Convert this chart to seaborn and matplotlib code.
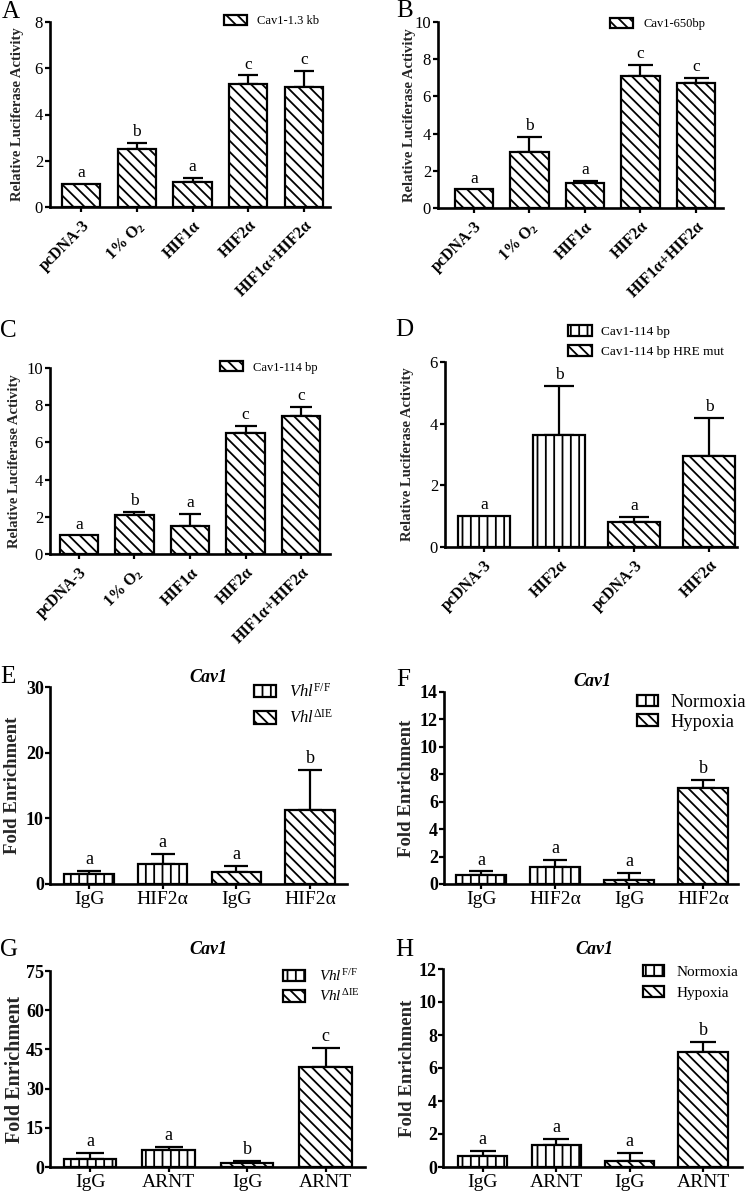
import numpy as np
import pandas as pd
import matplotlib
matplotlib.use("Agg")
import matplotlib.pyplot as plt
import seaborn as sns
from matplotlib.patches import Patch

# ---------------- data ----------------
# Panel A-C: luciferase reporter assays
luc_cats = ["pcDNA-3", r"1% O$_\mathbf{2}$", "HIF1α", "HIF2α", "HIF1α+HIF2α"]
a_mean = [1.00, 2.50, 1.07, 5.30, 5.17]
a_sem = [0.00, 0.26, 0.18, 0.39, 0.71]
a_sig = ["a", "b", "a", "c", "c"]
a_series = ["Cav1-1.3 kb"]

b_mean = [1.00, 3.00, 1.33, 7.09, 6.73]
b_sem = [0.00, 0.82, 0.14, 0.61, 0.27]
b_sig = ["a", "b", "a", "c", "c"]
b_series = ["Cav1-650bp"]

c_mean = [1.00, 2.10, 1.50, 6.49, 7.41]
c_sem = [0.00, 0.17, 0.65, 0.40, 0.50]
c_sig = ["a", "b", "a", "c", "c"]
c_series = ["Cav1-114 bp"]

# Panel D
d_cats = ["pcDNA-3", "HIF2α", "pcDNA-3", "HIF2α"]
d_mean = [1.00, 3.64, 0.82, 2.95]
d_sem = [0.00, 1.58, 0.15, 1.23]
d_sig = ["a", "b", "a", "b"]
d_series = ["Cav1-114 bp", "Cav1-114 bp HRE mut"]

# Panels E-H: ChIP fold enrichment
e_cats = ["IgG", "HIF2α", "IgG", "HIF2α"]
e_mean = [1.50, 2.97, 1.85, 11.30]
e_sem = [0.46, 1.60, 0.85, 6.10]
e_sig = ["a", "a", "a", "b"]
e_series = [r"$\mathit{Vhl}^{\mathrm{F/F}}$", r"$\mathit{Vhl}^{\mathrm{ΔIE}}$"]

f_mean = [0.63, 1.23, 0.31, 6.97]
f_sem = [0.29, 0.55, 0.49, 0.61]
f_sig = ["a", "a", "a", "b"]
f_series = ["Normoxia", "Hypoxia"]

g_cats = ["IgG", "ARNT", "IgG", "ARNT"]
g_mean = [3.20, 6.40, 1.50, 38.10]
g_sem = [2.15, 1.20, 0.70, 7.40]
g_sig = ["a", "a", "b", "c"]

h_mean = [0.69, 1.31, 0.38, 6.95]
h_sem = [0.30, 0.41, 0.47, 0.61]
h_sig = ["a", "a", "a", "b"]

single_group = [1, 1, 1, 1, 1]
pair_group = [0, 0, 1, 1]
gene_title = "Cav1"

# ---------------- style ----------------
sns.set_style("ticks")
plt.rcParams["font.family"] = ["Liberation Serif", "DejaVu Serif"]
plt.rcParams["mathtext.fontset"] = "custom"
plt.rcParams["mathtext.rm"] = "Liberation Serif"
plt.rcParams["mathtext.it"] = "Liberation Serif:italic"
plt.rcParams["mathtext.bf"] = "Liberation Serif:bold"
plt.rcParams["hatch.linewidth"] = 1.3
plt.rcParams["hatch.color"] = "black"
plt.rcParams["text.color"] = "black"
plt.rcParams["axes.edgecolor"] = "black"
plt.rcParams["xtick.color"] = "black"
plt.rcParams["ytick.color"] = "black"

HATCH = ["||", "\\\\\\"]

fig = plt.figure(figsize=(7.5, 12), dpi=100)


def add_ax(l, r, t, b):
    return fig.add_axes([l / 750, 1 - b / 1200, (r - l) / 750, (b - t) / 1200])


def panel(ax, cats, mean, sem, sig, groups, ymax, ystep, xlim, width, cap,
          kind, ylabel_x, ylabel_fs=13.5):
    n = len(mean)
    df = pd.DataFrame({"pos": np.arange(n), "val": mean})
    sns.barplot(data=df, x="pos", y="val", color="white", saturation=1,
                edgecolor="black", linewidth=1.6, width=width, errorbar=None,
                ax=ax, zorder=2)
    for p, g in zip(ax.patches, groups):
        p.set_hatch(HATCH[g])
    m = np.asarray(mean, float)
    s = np.asarray(sem, float)
    has = s > 0
    pos = np.arange(n)
    ax.errorbar(pos[has], m[has], yerr=[np.zeros(has.sum()), s[has]],
                fmt="none", ecolor="black", elinewidth=1.6, capsize=cap,
                capthick=1.6, zorder=1)
    sfs = 12.5 if kind == "luc" else 13
    for i in range(n):
        ax.annotate(sig[i], xy=(i, m[i] + s[i]), xytext=(0, 2),
                    textcoords="offset points", ha="center", va="bottom",
                    fontsize=sfs)
    ax.set_ylim(0, ymax)
    ax.set_xlim(*xlim)
    ax.set_yticks(np.arange(0, ymax + 0.01, ystep))
    ax.set_xticks(pos)
    sns.despine(ax=ax)
    for sp in ("left", "bottom"):
        ax.spines[sp].set_linewidth(1.9)
    ax.tick_params(axis="both", direction="out", length=3.8, width=1.6)
    ax.set_xlabel("")
    if kind == "luc":
        ax.set_xticklabels(cats, rotation=45, ha="right", va="top",
                           rotation_mode="anchor", fontweight="bold",
                           fontsize=11.5)
        ax.tick_params(axis="x", pad=4)
        ax.tick_params(axis="y", labelsize=12, pad=1.2)
        ax.set_yticklabels([f"{v:g}" for v in ax.get_yticks()])
        ax.set_ylabel("Relative Luciferase Activity", fontweight="bold",
                      fontsize=10.5, va="center")
    else:
        ax.set_xticklabels(cats, fontsize=14)
        ax.tick_params(axis="x", pad=1.5)
        ax.tick_params(axis="y", pad=0.6)
        ax.set_yticklabels([f"{v:g}" for v in ax.get_yticks()],
                           fontweight="bold", fontsize=13)
        ax.set_ylabel("Fold Enrichment", fontweight="bold",
                      fontsize=ylabel_fs, va="center")
    ax.yaxis.set_label_coords(ylabel_x, 0.5)


def legend(ax, labels, groups, x, y, fs, hl, hh, tp, ls):
    handles = [Patch(facecolor="white", edgecolor="black", linewidth=1.6,
                     hatch=HATCH[g]) for g in groups]
    ax.legend(handles, labels, loc="upper left",
              bbox_to_anchor=(x / 750, 1 - y / 1200),
              bbox_transform=fig.transFigure, frameon=False, borderpad=0,
              borderaxespad=0, fontsize=fs, handlelength=hl, handleheight=hh,
              handletextpad=tp, labelspacing=ls)


# Panel A
axA = add_ax(50, 330, 22, 207)
panel(axA, luc_cats, a_mean, a_sem, a_sig, single_group, 8, 2,
      (-0.56, 4.47), 0.69, 7.4, "luc", -0.115)
legend(axA, a_series, [1], 224, 15, 9, 1.85, 0.9, 0.8, 0.5)

# Panel B
axB = add_ax(438, 723, 22, 208)
panel(axB, luc_cats, b_mean, b_sem, b_sig, single_group, 10, 2,
      (-0.65, 4.49), 0.69, 9.0, "luc", -0.10)
legend(axB, b_series, [1], 610, 18, 9, 1.85, 0.9, 0.8, 0.5)

# Panel C
axC = add_ax(50, 330, 368, 554)
panel(axC, luc_cats, c_mean, c_sem, c_sig, single_group, 10, 2,
      (-0.52, 4.52), 0.69, 8.0, "luc", -0.125)
legend(axC, c_series, [1], 220, 361, 9, 1.85, 0.9, 0.8, 0.5)

# Panel D
axD = add_ax(445, 737, 362, 547)
panel(axD, d_cats, d_mean, d_sem, d_sig, pair_group, 6, 2,
      (-0.52, 3.37), 0.69, 10.5, "luc", -0.127)
legend(axD, d_series, [0, 1], 568, 325, 9.5, 1.8, 0.9, 0.7, 0.5)

# Panel E
axE = add_ax(50, 347, 687, 884)
panel(axE, e_cats, e_mean, e_sem, e_sig, pair_group, 30, 10,
      (-0.53, 3.5), 0.67, 8.3, "chip", -0.125)
legend(axE, e_series, pair_group[1:3], 254, 683, 12, 1.3, 0.8, 0.8, 0.5)

# Panel F
axF = add_ax(444, 738, 692, 884)
panel(axF, e_cats, f_mean, f_sem, f_sig, pair_group, 14, 2,
      (-0.5, 3.47), 0.68, 8.5, "chip", -0.126)
legend(axF, f_series, pair_group[1:3], 637, 694, 13.3, 1.15, 0.6, 0.65, 0.15)

# Panel G
axG = add_ax(50, 365, 971, 1167)
panel(axG, g_cats, g_mean, g_sem, g_sig, pair_group, 75, 15,
      (-0.51, 3.5), 0.67, 10.0, "chip", -0.111, ylabel_fs=14.5)
legend(axG, e_series, pair_group[1:3], 283, 968, 11, 1.45, 0.8, 0.9, 0.3)

# Panel H
axH = add_ax(443, 742, 969, 1167)
panel(axH, g_cats, h_mean, h_sem, h_sig, pair_group, 12, 2,
      (-0.54, 3.53), 0.67, 9.3, "chip", -0.12)
legend(axH, f_series, pair_group[1:3], 643, 965, 11, 1.4, 0.77, 0.77, 0.45)

# Panel letters
for letter, x, y in [("A", 2, 12), ("B", 396, 11), ("C", 0, 331),
                     ("D", 395, 330), ("E", 0, 677), ("F", 396, 680),
                     ("G", 0, 950), ("H", 395, 950)]:
    fig.text(x / 750, 1 - y / 1200, letter, fontsize=18, ha="left",
             va="center")

# Gene titles
for x, y in [(208, 677), (592, 682), (208, 950), (594, 950)]:
    fig.text(x / 750, 1 - y / 1200, gene_title, fontsize=13,
             fontweight="bold", fontstyle="italic", ha="center", va="center")

fig.savefig("out.png", dpi=100, facecolor="white")
